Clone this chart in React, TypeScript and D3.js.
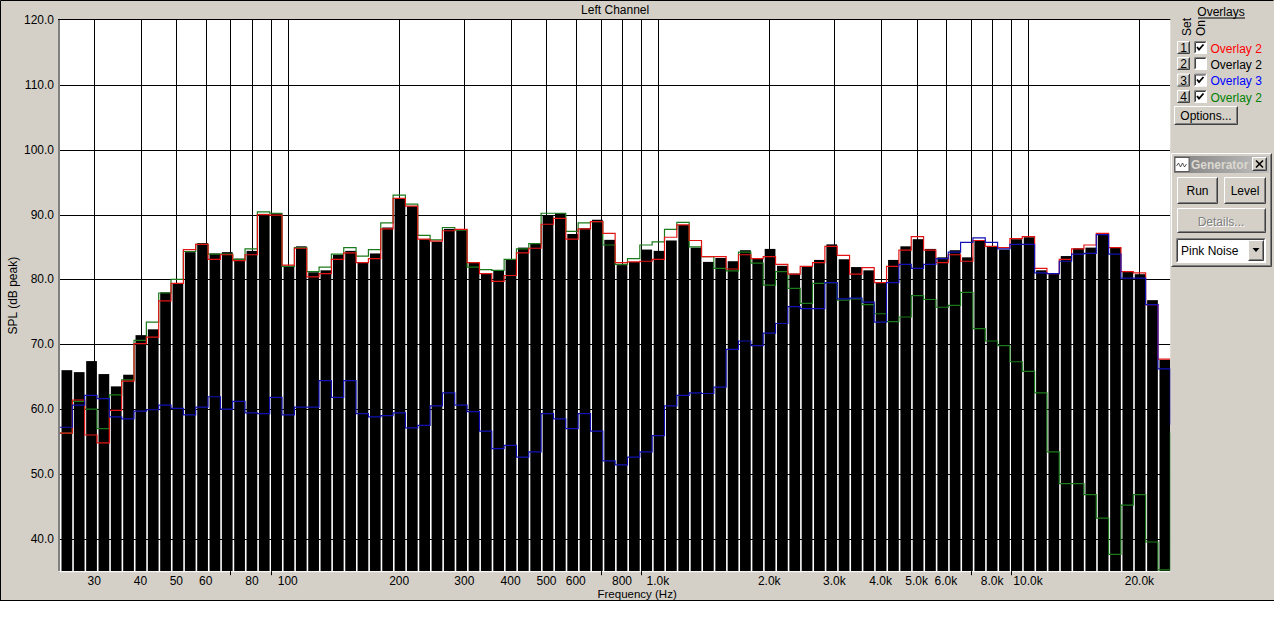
import React from 'react';
import * as d3 from 'd3';

const W = 1274;
const H = 637;

// 90 analyser bands, 30 per decade, main measurement (black bars), dB peak
const MAIN_DB = [
  66.0, 65.7, 67.4, 65.4, 63.5, 65.3, 71.4, 72.3, 78.0, 79.4,
  84.2, 85.6, 84.0, 84.2, 83.2, 84.4, 90.1, 90.2, 82.1, 85.1,
  81.1, 81.4, 83.8, 84.4, 82.6, 84.0, 88.0, 92.5, 91.3, 86.2,
  85.8, 87.8, 87.6, 82.6, 80.9, 81.3, 83.1, 84.9, 85.6, 89.8,
  90.2, 87.0, 87.9, 89.2, 86.1, 82.2, 82.7, 84.6, 84.4, 86.0,
  88.4, 84.9, 82.7, 83.3, 82.8, 84.5, 83.2, 84.7, 82.1, 80.9,
  82.0, 83.0, 85.4, 83.1, 81.9, 81.4, 79.5, 83.0, 85.1, 86.2,
  84.7, 83.4, 84.5, 83.4, 86.0, 85.1, 84.6, 86.2, 86.5, 81.4,
  80.9, 83.6, 84.8, 84.9, 87.1, 84.9, 81.2, 80.8, 76.8, 67.6,
];

// Overlay 1 (red)
const RED_DB = [
  56.3, 61.4, 56.0, 54.8, 59.8, 64.3, 70.1, 71.1, 76.7, 79.4,
  84.6, 85.4, 83.1, 83.8, 82.9, 83.8, 90.0, 89.9, 82.2, 84.8,
  80.4, 80.9, 83.1, 84.1, 82.6, 83.2, 87.8, 92.5, 91.3, 86.2,
  85.9, 87.5, 87.7, 82.6, 80.9, 79.7, 80.6, 84.1, 84.8, 88.5,
  89.4, 86.2, 87.8, 88.9, 87.1, 82.6, 82.7, 82.8, 83.1, 86.5,
  88.4, 86.0, 83.5, 83.5, 81.6, 83.8, 83.2, 83.5, 82.3, 80.8,
  82.0, 82.6, 85.1, 83.7, 80.8, 81.8, 79.5, 82.0, 84.5, 86.6,
  84.5, 82.6, 83.8, 82.8, 86.0, 85.1, 84.9, 86.3, 86.6, 81.7,
  80.9, 83.1, 84.7, 85.3, 87.1, 84.9, 81.2, 81.0, 76.1, 67.7,
];
const RED_TAIL = 67.7;

// Overlay 3 (blue)
const BLUE_DB = [
  57.2, 60.6, 62.1, 61.6, 58.8, 58.5, 59.7, 59.9, 60.6, 60.1,
  59.1, 60.3, 61.9, 60.0, 61.2, 59.4, 59.3, 61.8, 59.1, 60.3,
  60.3, 64.4, 61.8, 64.4, 59.3, 58.8, 59.0, 59.4, 57.1, 57.5,
  60.5, 62.5, 60.6, 59.6, 56.6, 53.9, 54.4, 52.6, 53.4, 59.3,
  58.5, 57.0, 59.3, 56.6, 52.0, 51.4, 52.6, 53.4, 55.9, 60.5,
  62.1, 62.5, 62.4, 63.4, 69.2, 70.5, 69.8, 71.7, 73.2, 75.8,
  75.5, 75.5, 79.5, 77.0, 77.1, 76.5, 73.4, 79.5, 82.3, 81.7,
  82.3, 83.2, 84.2, 85.7, 86.4, 85.7, 84.7, 85.4, 85.4, 81.0,
  80.9, 82.8, 83.9, 84.0, 86.9, 83.9, 80.2, 80.2, 76.1, 66.2,
];
const BLUE_TAIL = 57.6;

// Overlay 4 (green)
const GREEN_DB = [
  56.3, 61.2, 60.0, 57.0, 62.2, 64.5, 70.6, 73.4, 77.9, 80.0,
  84.3, 85.4, 83.9, 83.9, 83.1, 84.7, 90.4, 90.2, 82.0, 84.9,
  81.2, 81.9, 83.9, 84.9, 83.6, 84.6, 88.7, 93.0, 91.6, 86.8,
  86.1, 88.0, 87.6, 81.9, 81.5, 81.4, 83.1, 84.7, 85.5, 90.2,
  90.2, 87.4, 88.7, 88.9, 85.3, 82.3, 83.2, 85.3, 85.8, 87.7,
  88.8, 85.0, 83.5, 81.7, 81.3, 84.2, 82.5, 79.1, 81.2, 78.6,
  76.3, 79.4, 79.5, 76.8, 77.0, 76.1, 74.7, 73.5, 74.2, 77.5,
  76.9, 75.7, 76.0, 78.0, 72.4, 70.5, 69.8, 67.3, 65.8, 62.5,
  53.4, 48.5, 48.5, 46.8, 43.2, 37.6, 45.2, 46.8, 39.5, 35.2,
];
const GREEN_TAIL = 56.4;

const Y_TICKS = [40, 50, 60, 70, 80, 90, 100, 110, 120];
const X_LABEL_FREQS = [30, 40, 50, 60, 80, 100, 200, 300, 400, 500, 600, 800, 1000, 2000, 3000, 4000, 5000, 6000, 8000, 10000, 20000];
const X_LABELS = ['30', '40', '50', '60', '80', '100', '200', '300', '400', '500', '600', '800', '1.0k', '2.0k', '3.0k', '4.0k', '5.0k', '6.0k', '8.0k', '10.0k', '20.0k'];
const X_MINOR_FREQS = [70, 90, 700, 900, 7000, 9000];

const OVERLAY_LABELS = ['Overlay 2', 'Overlay 2', 'Overlay 3', 'Overlay 2'];
const OVERLAY_COLORS = ['#ff0000', '#000000', '#0000ff', '#008000'];
const OVERLAY_ON = [true, false, true, true];

const F_MIN = 24.24;
const F_MAX = 24240;
const BANDS_PER_DECADE = 30;
const Y_MIN = 35;
const Y_MAX = 120;

const FONT = 'Liberation Sans, Arial, Helvetica, sans-serif';
const FACE = '#d4d0c8';

const PL = 60;
const PR = 1170.3;
const PT = 20;
const PB = 571.2;

const x = d3.scaleLog().domain([F_MIN, F_MAX]).range([PL, PR]);
const y = d3.scaleLinear().domain([Y_MIN, Y_MAX]).range([PB, PT]);
const edges = d3.range(MAIN_DB.length + 1).map((i) => F_MIN * Math.pow(10, i / BANDS_PER_DECADE));

function stepPath(vals: number[], tail: number): string {
  const pts: [number, number][] = vals.map((v, i) => [edges[i], v]);
  pts.push([edges[vals.length], vals[vals.length - 1]]);
  pts.push([edges[vals.length], tail]);
  const line = d3
    .line<[number, number]>()
    .x((d) => x(d[0]))
    .y((d) => y(d[1]))
    .curve(d3.curveStepAfter);
  return line(pts) || '';
}

function Raised({ x0, y0, w, h }: { x0: number; y0: number; w: number; h: number }) {
  return (
    <g>
      <rect x={x0} y={y0} width={w} height={h} fill={FACE} />
      <path d={`M${x0 + 0.5},${y0 + h - 0.5}V${y0 + 0.5}H${x0 + w - 0.5}`} stroke="#ffffff" fill="none" />
      <path d={`M${x0 + 0.5},${y0 + h - 0.5}H${x0 + w - 0.5}V${y0 + 0.5}`} stroke="#404040" fill="none" />
      <path d={`M${x0 + 1.5},${y0 + h - 1.5}H${x0 + w - 1.5}V${y0 + 1.5}`} stroke="#808080" fill="none" />
    </g>
  );
}

function Sunken({ x0, y0, w, h, fill }: { x0: number; y0: number; w: number; h: number; fill: string }) {
  return (
    <g>
      <rect x={x0} y={y0} width={w} height={h} fill={fill} />
      <path d={`M${x0 + 0.5},${y0 + h - 0.5}V${y0 + 0.5}H${x0 + w - 0.5}`} stroke="#808080" fill="none" />
      <path d={`M${x0 + 1.5},${y0 + h - 1.5}V${y0 + 1.5}H${x0 + w - 1.5}`} stroke="#404040" fill="none" />
      <path d={`M${x0 + 0.5},${y0 + h - 0.5}H${x0 + w - 0.5}V${y0 + 0.5}`} stroke="#ffffff" fill="none" />
    </g>
  );
}

export default function App() {
  const rowY = [41, 57, 73.5, 90];
  return (
    <svg
      width={W}
      height={H}
      style={{ position: 'absolute', left: 0, top: 0, display: 'block' }}
      fontFamily={FONT}
    >
      <defs>
        <clipPath id="plotClip">
          <rect x={PL} y={PT} width={PR - PL} height={PB - PT} />
        </clipPath>
        <linearGradient id="titleGrad" x1="0" x2="1" y1="0" y2="0">
          <stop offset="0" stopColor="#808080" />
          <stop offset="1" stopColor="#c0c0c0" />
        </linearGradient>
      </defs>
      <rect x={0} y={0} width={W} height={H} fill="#ffffff" />
      <rect x={0} y={0} width={W} height={601} fill={FACE} />
      <path d={`M0.5,600.5V0.5H${W - 0.5}`} stroke="#000" fill="none" />
      <line x1={0} x2={W} y1={600.5} y2={600.5} stroke="#000" />

      {/* plot */}
      <rect x={PL} y={PT} width={PR - PL} height={PB - PT} fill="#ffffff" />
      <g clipPath="url(#plotClip)">
        {Y_TICKS.filter((t) => t < Y_MAX).map((t) => (
          <line key={'h' + t} x1={PL} x2={PR} y1={Math.round(y(t)) + 0.5} y2={Math.round(y(t)) + 0.5} stroke="#000" />
        ))}
        {[...X_LABEL_FREQS, ...X_MINOR_FREQS].map((f) => (
          <line key={'v' + f} x1={Math.round(x(f)) + 0.5} x2={Math.round(x(f)) + 0.5} y1={PT} y2={PB} stroke="#000" />
        ))}
        {MAIN_DB.map((v, i) => {
          const x0 = x(edges[i]);
          const x1 = x(edges[i + 1]);
          return (
            <rect key={'b' + i} x={x0 + 1.5} y={y(v)} width={x1 - x0 - 1.6} height={y(Y_MIN) - y(v)} fill="#000" />
          );
        })}
        <path d={stepPath(GREEN_DB, GREEN_TAIL)} fill="none" stroke="#1b7a1b" strokeWidth={1.2} />
        <path d={stepPath(RED_DB, RED_TAIL)} fill="none" stroke="#e31414" strokeWidth={1.2} />
        <path d={stepPath(BLUE_DB, BLUE_TAIL)} fill="none" stroke="#1212b4" strokeWidth={1.2} />
      </g>
      {/* plot border */}
      <line x1={PL - 1} x2={PL - 1} y1={PT - 1} y2={PB + 1} stroke="#808080" strokeWidth={2} />
      <line x1={PL - 2} x2={PR} y1={PT - 0.5} y2={PT - 0.5} stroke="#000" />
      <line x1={PL - 2} x2={PR} y1={PB + 0.5} y2={PB + 0.5} stroke="#ffffff" />

      {/* y axis */}
      {Y_TICKS.map((t) => (
        <text key={'yl' + t} x={54} y={y(t) + 4} textAnchor="end" fontSize={12} fill="#000">
          {t.toFixed(1)}
        </text>
      ))}
      <text
        transform={`translate(17,${(PT + PB) / 2}) rotate(-90)`}
        textAnchor="middle"
        fontSize={12}
        fill="#000"
      >
        SPL (dB peak)
      </text>

      {/* x axis */}
      {X_MINOR_FREQS.map((f) => (
        <line key={'mt' + f} x1={Math.round(x(f)) + 0.5} x2={Math.round(x(f)) + 0.5} y1={PB} y2={PB + 4} stroke="#000" />
      ))}
      {X_LABEL_FREQS.map((f, i) => (
        <text key={'xl' + f} x={x(f)} y={585} textAnchor="middle" fontSize={12} fill="#000">
          {X_LABELS[i]}
        </text>
      ))}
      <text x={(PL + PR) / 2 + 22} y={597.5} textAnchor="middle" fontSize={11.5} fill="#000">
        Frequency (Hz)
      </text>
      <text x={(PL + PR) / 2} y={14} textAnchor="middle" fontSize={12} fill="#000">
        Left Channel
      </text>

      {/* overlays panel */}
      <text x={1221} y={16} textAnchor="middle" fontSize={12} fill="#000">Overlays</text>
      <line x1={1198} x2={1245} y1={18} y2={18} stroke="#000" />
      <text transform="translate(1190.5,27) rotate(-90)" textAnchor="middle" fontSize={12} fill="#000">Set</text>
      <text transform="translate(1204.5,28) rotate(-90)" textAnchor="middle" fontSize={12} fill="#000">On</text>
      {OVERLAY_LABELS.map((lab, i) => (
        <g key={'ov' + i}>
          <Raised x0={1177} y0={rowY[i]} w={13} h={13} />
          <text x={1183.5} y={rowY[i] + 11} textAnchor="middle" fontSize={12} fill="#000">{i + 1}</text>
          <Sunken x0={1194} y0={rowY[i]} w={13} h={13} fill="#ffffff" />
          {OVERLAY_ON[i] && (
            <path
              d={`M${1197},${rowY[i] + 6} l2,2.5 l4.5,-5`}
              stroke="#000"
              strokeWidth={1.8}
              fill="none"
            />
          )}
          <text x={1210.5} y={rowY[i] + 11.5} fontSize={12} fill={OVERLAY_COLORS[i]}>{lab}</text>
        </g>
      ))}
      <Raised x0={1174} y0={106} w={64} h={19} />
      <text x={1206} y={120} textAnchor="middle" fontSize={12} fill="#000">Options...</text>

      {/* generator */}
      <Raised x0={1171} y0={153} w={101} h={114} />
      <rect x={1174} y={156} width={95} height={17} fill="url(#titleGrad)" />
      <rect x={1175} y={157.5} width={14} height={14} fill="#ffffff" stroke="#404040" strokeWidth={0.8} />
      <path d="M1176.5,166 l2,-3 l2,4 l2,-4 l2,4 l2,-3" stroke="#303030" fill="none" strokeWidth={0.8} />
      <text x={1191} y={168.5} fontSize={12} fontWeight="bold" fill="#dcd8d0">Generator</text>
      <Raised x0={1252} y0={157} w={15} h={14} />
      <path d="M1256,160.5 l7,7 M1263,160.5 l-7,7" stroke="#000" strokeWidth={1.6} />
      <Raised x0={1177} y0={177} w={41} h={27} />
      <text x={1197.5} y={195} textAnchor="middle" fontSize={12} fill="#000">Run</text>
      <Raised x0={1224} y0={177} w={42} h={27} />
      <text x={1245} y={195} textAnchor="middle" fontSize={12} fill="#000">Level</text>
      <Raised x0={1177} y0={208} w={89} h={25} />
      <text x={1222} y={227} textAnchor="middle" fontSize={12} fill="#ffffff">Details...</text>
      <text x={1221} y={226} textAnchor="middle" fontSize={12} fill="#808080">Details...</text>
      <Sunken x0={1176} y0={238} w={90} h={25} fill="#ffffff" />
      <text x={1181} y={254.5} fontSize={12} fill="#000">Pink Noise</text>
      <Raised x0={1248} y0={240} w={16} h={21} />
      <path d="M1252.5,248 h7 l-3.5,4 z" fill="#000" />
    </svg>
  );
}
